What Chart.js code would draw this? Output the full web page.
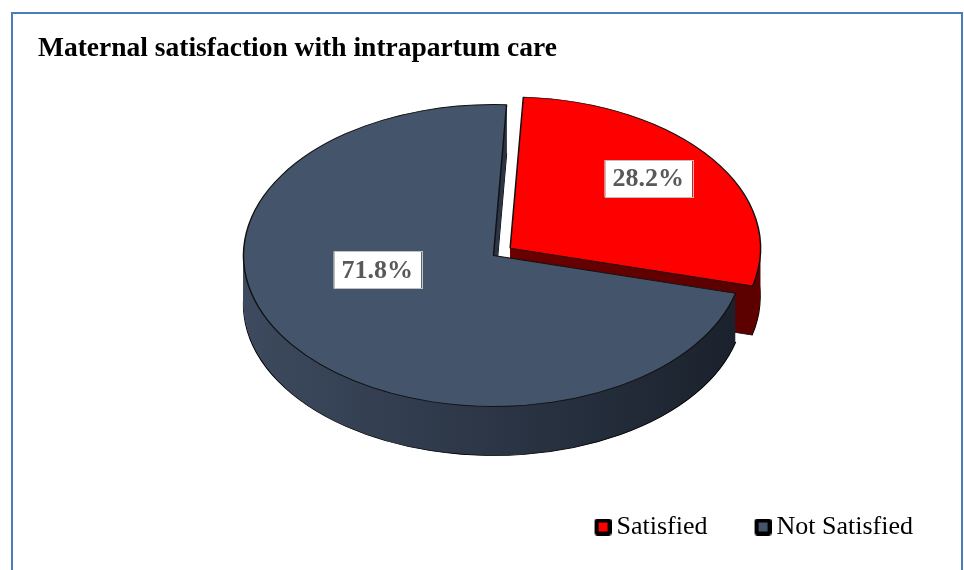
<!DOCTYPE html>
<html>
<head>
<meta charset="utf-8">
<script src="https://cdn.jsdelivr.net/npm/chart.js@4.4.1/dist/chart.umd.min.js"></script>
<style>
  html, body { margin: 0; padding: 0; background: #fff; }
  canvas { display: block; }
</style>
</head>
<body>
<canvas id="satChart" width="964" height="570"></canvas>
<script>
// Data
const categories = ["Satisfied", "Not Satisfied"];
const shares = [28.2, 71.8];
const sliceColors = ["#ff0000", "#44546a"];

// 3D look
const DEPTH = 49;      // extrusion height in px
const RX = 250, RY = 151; // top face ellipse radii
const wallColors = [["#7a0000", "#5c0000"], ["#3d4a5f", "#1a212c"]];
const labelNudge = [[-3, -7], [25, -48]];

// square legend marker with a black rim, sitting at the right end of a wider transparent canvas
function legendMarker(color) {
  const c = document.createElement("canvas");
  c.width = 36; c.height = 17;
  const g = c.getContext("2d");
  g.fillStyle = "#000";
  g.beginPath();
  g.roundRect(19, 0, 17, 17, 3);
  g.fill();
  g.fillStyle = color;
  g.fillRect(23, 4, 9, 9);
  return c;
}

// frame around the chart
const frame = {
  id: "frame",
  beforeDraw(chart) {
    const { ctx } = chart;
    ctx.save();
    ctx.fillStyle = "#fff";
    ctx.fillRect(0, 0, chart.width, chart.height);
    ctx.strokeStyle = "#4a7ebb";
    ctx.lineWidth = 2;
    ctx.beginPath();
    ctx.moveTo(12, chart.height + 5);
    ctx.lineTo(12, 13);
    ctx.lineTo(962, 13);
    ctx.lineTo(962, chart.height + 5);
    ctx.stroke();
    ctx.restore();
  }
};

function slicePath(ctx, arc) {
  const { x, y, startAngle, endAngle, outerRadius } = arc;
  const off = (arc.options.offset || 0) / 4;
  const mid = (startAngle + endAngle) / 2;
  const ox = x + Math.cos(mid) * off, oy = y + Math.sin(mid) * off;
  ctx.beginPath();
  ctx.moveTo(ox, oy);
  ctx.arc(ox, oy, outerRadius, startAngle, endAngle);
  ctx.closePath();
}

// squash the pie into an ellipse and give it depth
const pie3d = {
  id: "pie3d",
  beforeDatasetsDraw(chart) {
    const { ctx } = chart;
    const arcs = chart.getDatasetMeta(0).data;
    const { x: cx, y: cy, outerRadius: r } = arcs[0];
    const sx = RX / r, sy = RY / r;

    const grads = wallColors.map(c => {
      const g = ctx.createLinearGradient(cx - r, 0, cx + r, 0);
      g.addColorStop(0, c[0]);
      g.addColorStop(1, c[1]);
      return g;
    });

    for (let d = DEPTH; d >= 1; d--) {
      ctx.save();
      ctx.translate(cx, cy - DEPTH / 2 + d);
      ctx.scale(sx, sy);
      ctx.translate(-cx, -cy);
      arcs.forEach((arc, i) => {
        slicePath(ctx, arc);
        ctx.fillStyle = grads[i];
        ctx.fill();
        if (d === DEPTH) {
          ctx.lineWidth = 0.8;
          ctx.strokeStyle = "#000";
          ctx.stroke();
        }
      });
      ctx.restore();
    }

    ctx.save();
    ctx.translate(cx, cy - DEPTH / 2);
    ctx.scale(sx, sy);
    ctx.translate(-cx, -cy);
  },
  afterDatasetsDraw(chart) {
    const { ctx } = chart;
    ctx.restore();

    const arcs = chart.getDatasetMeta(0).data;
    const { x: cx, y: cy, outerRadius: r } = arcs[0];
    const sx = RX / r, sy = RY / r;
    ctx.save();
    ctx.font = "bold 26px 'Liberation Serif', serif";
    ctx.textAlign = "center";
    ctx.textBaseline = "middle";
    arcs.forEach((arc, i) => {
      const mid = (arc.startAngle + arc.endAngle) / 2;
      const off = (arc.options.offset || 0) / 4;
      const dist = off + 0.7 * r;
      const px = cx + Math.cos(mid) * dist;
      const py = cy + Math.sin(mid) * dist;
      const X = cx + (px - cx) * sx + labelNudge[i][0];
      const Y = cy - DEPTH / 2 + (py - cy) * sy + labelNudge[i][1];
      const text = shares[i].toFixed(1) + "%";
      const w = ctx.measureText(text).width + 16;
      const h = 37;
      ctx.fillStyle = "#fff";
      ctx.fillRect(X - w / 2, Y - h / 2, w, h);
      ctx.strokeStyle = "#bfbfbf";
      ctx.lineWidth = 1;
      ctx.strokeRect(Math.round(X - w / 2) + 0.5, Math.round(Y - h / 2) + 0.5, Math.round(w), h);
      ctx.fillStyle = "#595959";
      ctx.fillText(text, X, Y + 1);
    });
    ctx.restore();
  }
};

const markers = sliceColors.map(legendMarker);

new Chart(document.getElementById("satChart"), {
  type: "pie",
  data: {
    labels: categories,
    datasets: [{
      data: shares,
      backgroundColor: sliceColors,
      borderColor: "#111",
      borderWidth: 1,
      offset: [56, 0],
      clip: false
    }]
  },
  options: {
    responsive: false,
    animation: false,
    events: [],
    rotation: 3,
    layout: { padding: { left: 38, right: 15, top: 25, bottom: 20 } },
    plugins: {
      tooltip: { enabled: false },
      title: {
        display: true,
        text: "Maternal satisfaction with intrapartum care",
        align: "start",
        color: "#000",
        font: { family: "'Liberation Serif', serif", size: 27.5, weight: "bold" },
        padding: { top: 7, bottom: 17 }
      },
      legend: {
        position: "bottom",
        align: "end",
        labels: {
          color: "#000",
          font: { family: "'Liberation Serif', serif", size: 26 },
          usePointStyle: true,
          pointStyleWidth: 20,
          padding: 36,
          generateLabels(chart) {
            return categories.map((c, i) => ({
              text: c,
              pointStyle: markers[i],
              fillStyle: sliceColors[i],
              strokeStyle: "#000",
              lineWidth: 0,
              index: i
            }));
          }
        }
      }
    }
  },
  plugins: [frame, pie3d]
});
</script>
</body>
</html>
